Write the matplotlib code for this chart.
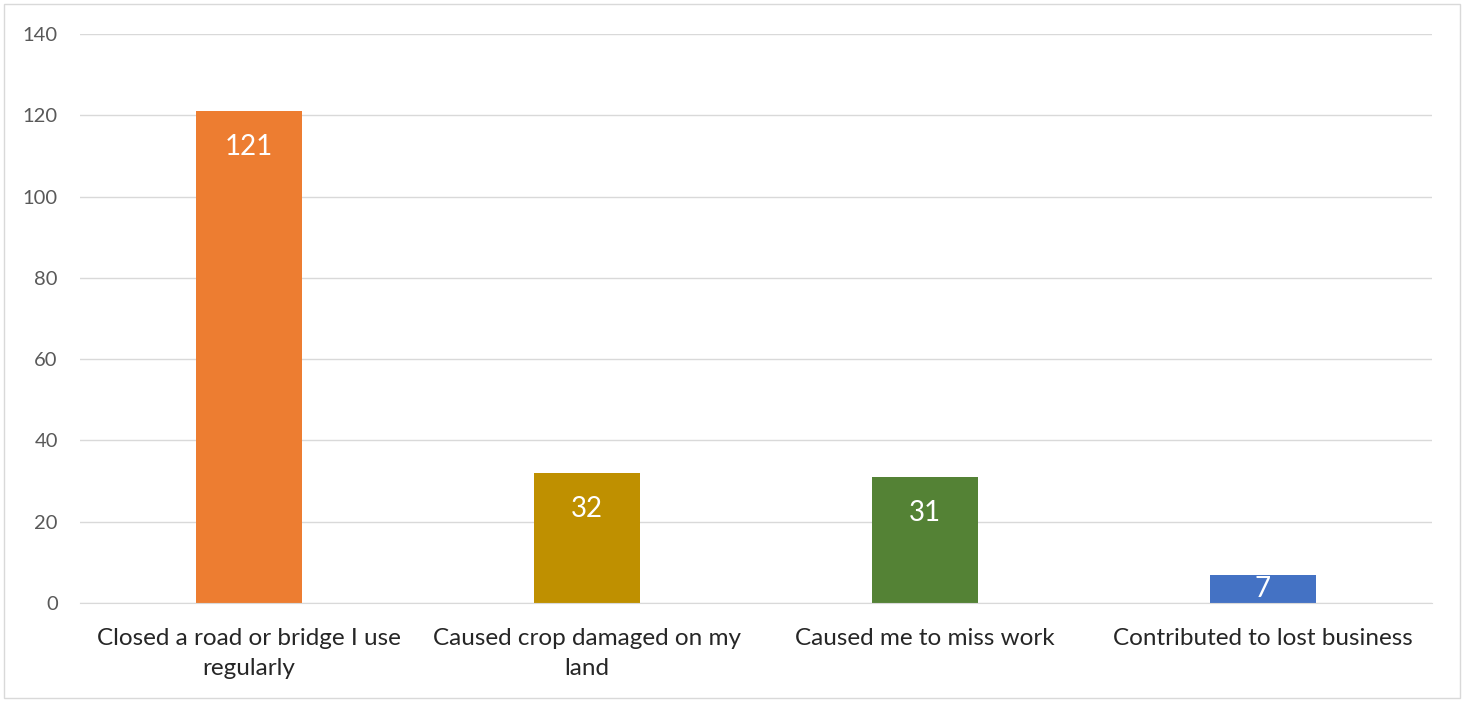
import matplotlib.pyplot as plt
from matplotlib.patches import Rectangle

plt.rcParams['font.family'] = ['Lato', 'DejaVu Sans']

# data
categories = ['Closed a road or bridge I use\nregularly',
              'Caused crop damaged on my\nland',
              'Caused me to miss work',
              'Contributed to lost business']
values = [121, 32, 31, 7]
colors = ['#ED7D31', '#BF9000', '#548235', '#4472C4']
yticks = [0, 20, 40, 60, 80, 100, 120, 140]

fig = plt.figure(figsize=(14.64, 7.02), dpi=100)
ax = fig.add_axes([80 / 1464, 1 - 603 / 702, 1352 / 1464, 569 / 702])

x = range(len(categories))
bars = ax.bar(x, values, width=0.315, color=colors, zorder=3)

# labels sit inside the bar end; short bars get them centred
for b, v in zip(bars, values):
    ax.text(b.get_x() + b.get_width() / 2, max(v - 8.8, v / 2), str(v),
            ha='center', va='center', color='white', fontsize=20, zorder=4)

ax.set_xlim(-0.5, len(categories) - 0.5)
ax.set_ylim(0, 140)
ax.set_yticks(yticks)
ax.set_xticks(list(x))
ax.set_xticklabels(categories, fontsize=17.5, color='#262626', linespacing=1.55)
ax.tick_params(axis='y', labelsize=14.5, labelcolor='#595959', length=0, pad=16)
ax.tick_params(axis='x', length=0, pad=18)
ax.grid(axis='y', color='#D9D9D9', linewidth=1, zorder=0)
for s in ['top', 'right', 'left']:
    ax.spines[s].set_visible(False)
ax.spines['bottom'].set_color('#D9D9D9')
ax.spines['bottom'].set_zorder(3)

# outer chart border
fig.patches.append(Rectangle((4 / 1464, 4 / 702), 1 - 8 / 1464, 1 - 8 / 702,
                             transform=fig.transFigure, fill=False,
                             edgecolor='#D9D9D9', linewidth=1))

fig.savefig('out.png', dpi=100)
